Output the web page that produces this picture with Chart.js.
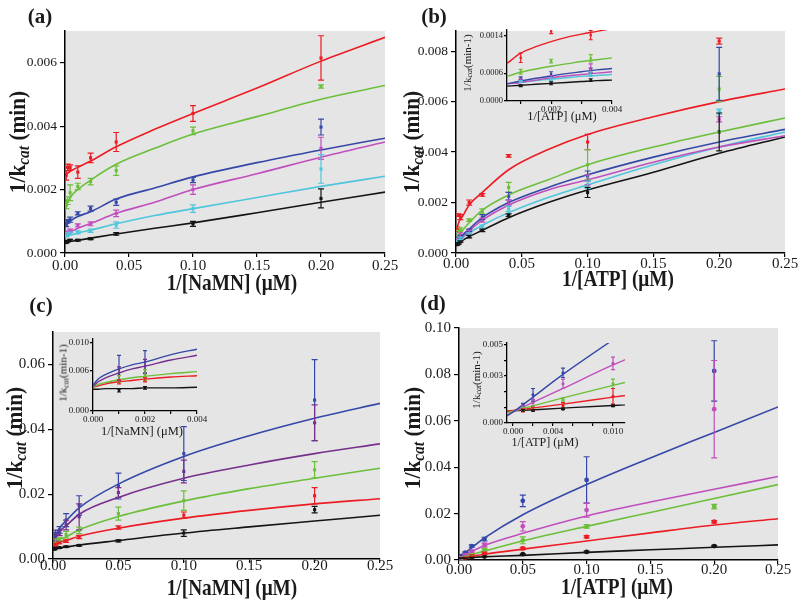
<!DOCTYPE html>
<html><head><meta charset="utf-8">
<script src="https://cdn.jsdelivr.net/npm/chart.js@4/dist/chart.umd.min.js"></script>
<style>
html,body{margin:0;padding:0;background:#fff;}
#wrap{position:relative;width:800px;height:606px;overflow:hidden;font-family:'Liberation Serif','Times New Roman',serif;color:#1a1a1a;}
canvas{position:absolute;}
.t{position:absolute;white-space:nowrap;transform:translate(-50%,-50%);line-height:1;}
.r{transform:translate(-50%,-50%) rotate(-90deg);}
.xs{transform:translate(-50%,-50%) scale(0.92,1.08);}
.ys{transform:translate(-50%,-50%) rotate(-90deg) scale(0.97,1.05);}
.b{font-weight:bold;}
sub{font-size:72%;vertical-align:-0.2em;line-height:0;}
</style></head><body><div id="wrap"></div>
<script>
// ---------- Panel (a): 1/kcat vs 1/[NaMN] ----------
const xA = [0.001, 0.002, 0.004, 0.01, 0.02, 0.04, 0.1, 0.2];
const aRed = [0.00245, 0.0027, 0.0027, 0.00255, 0.0030, 0.0035, 0.0044, 0.00615];
const aRedErr = [0.00015, 0.0001, 0.00008, 0.0002, 0.00015, 0.0003, 0.00025, 0.0007];
const aGreen = [0.0015, 0.00165, 0.0019, 0.0021, 0.00225, 0.0026, 0.00385, 0.00525];
const aGreenErr = [0.0001, 0.00012, 0.00025, 0.0001, 0.0001, 0.00015, 0.00012, 0.00005];
const aBlue = [0.00088, 0.001, 0.00105, 0.00125, 0.0014, 0.0016, 0.0023, 0.00397];
const aBlueErr = [0.00005, 0.00005, 0.00008, 0.00005, 0.00008, 0.0001, 0.00008, 0.00025];
const aMagenta = [0.00062, 0.00065, 0.0007, 0.00087, 0.00092, 0.00125, 0.002, 0.0033];
const aMagentaErr = [0.00004, 0.00004, 0.00005, 0.00005, 0.00006, 0.0001, 0.00015, 0.00035];
const aCyan = [0.00055, 0.0006, 0.00062, 0.00065, 0.0007, 0.00088, 0.0014, 0.00265];
const aCyanErr = [0.00004, 0.00004, 0.00004, 0.00005, 0.00005, 0.0001, 0.00012, 0.00045];
const aBlack = [0.00033, 0.00037, 0.0004, 0.0004, 0.00045, 0.0006, 0.00092, 0.00172];
const aBlackErr = [0.00002, 0.00002, 0.00003, 0.00003, 0.00003, 0.00004, 0.00008, 0.0003];
const fitXA = [0, 0.005, 0.01, 0.02, 0.04, 0.07, 0.1, 0.15, 0.2, 0.25];
const aRedFit = [0.00245, 0.0026, 0.0027, 0.0029, 0.00335, 0.0039, 0.0044, 0.0052, 0.00605, 0.0068];
const aGreenFit = [0.00145, 0.0018, 0.002, 0.0023, 0.0028, 0.0033, 0.00375, 0.0043, 0.00485, 0.00528];
const aBlueFit = [0.00085, 0.00103, 0.00115, 0.0013, 0.0017, 0.00205, 0.0024, 0.00285, 0.00325, 0.00362];
const aMagentaFit = [0.0006, 0.00068, 0.00078, 0.00093, 0.00125, 0.0016, 0.002, 0.0025, 0.00302, 0.0035];
const aCyanFit = [0.0005, 0.00058, 0.00063, 0.00072, 0.00092, 0.00118, 0.0014, 0.00175, 0.0021, 0.00242];
const aBlackFit = [0.00033, 0.00037, 0.0004, 0.00047, 0.0006, 0.00078, 0.00095, 0.00127, 0.0016, 0.00192];
const aYTicks = [0, 0.002, 0.004, 0.006];
const aYLabels = ['0.000', '0.002', '0.004', '0.006'];

// ---------- Panel (b): 1/kcat vs 1/[ATP] ----------
const xB = [0.001, 0.002, 0.0033, 0.01, 0.02, 0.04, 0.1, 0.2];
const bRed = [0.00093, 0.0015, 0.00142, 0.002, 0.0023, 0.00385, 0.0044, 0.0084];
const bRedErr = [0.0001, 0.00005, 0.0001, 0.0001, 0.00005, 0.00005, 0.0003, 0.00012];
const bGreen = [0.00063, 0.00086, 0.00092, 0.0013, 0.00165, 0.0026, 0.0035, 0.0065];
const bGreenErr = [0.00005, 0.00004, 0.00008, 0.00005, 0.0001, 0.0002, 0.0006, 0.0005];
const bBlue = [0.00049, 0.00058, 0.00066, 0.0009, 0.00142, 0.00225, 0.00305, 0.0071];
const bBlueErr = [0.00003, 0.00005, 0.00005, 0.00005, 0.0001, 0.00015, 0.0002, 0.00105];
const bMagenta = [0.00045, 0.00052, 0.0007, 0.00085, 0.0013, 0.002, 0.0029, 0.0053];
const bMagentaErr = [0.00003, 0.00003, 0.0001, 0.00005, 0.00008, 0.0001, 0.0002, 0.0001];
const bCyan = [0.00042, 0.00047, 0.00058, 0.00075, 0.00105, 0.00175, 0.0027, 0.0056];
const bCyanErr = [0.00002, 0.00003, 0.00005, 0.00005, 0.00006, 0.0001, 0.00015, 0.0001];
const bBlack = [0.00033, 0.00038, 0.00045, 0.00065, 0.0009, 0.0015, 0.0024, 0.0048];
const bBlackErr = [0.00002, 0.00003, 0.00003, 0.00005, 0.00005, 0.00005, 0.0002, 0.00075];
const fitXB = [0, 0.002, 0.005, 0.01, 0.02, 0.04, 0.07, 0.1, 0.15, 0.2, 0.25];
const bRedFit = [0.0008, 0.0012, 0.00145, 0.0019, 0.0024, 0.0033, 0.0041, 0.0047, 0.0054, 0.006, 0.0065];
const bGreenFit = [0.0005, 0.0007, 0.0009, 0.0012, 0.0017, 0.0023, 0.0029, 0.0035, 0.0042, 0.0048, 0.00535];
const bBlueFit = [0.00035, 0.0005, 0.0007, 0.00095, 0.0014, 0.002, 0.0026, 0.0031, 0.0038, 0.0044, 0.0049];
const bMagentaFit = [0.00035, 0.00048, 0.00065, 0.00088, 0.0013, 0.0019, 0.0025, 0.0029, 0.0036, 0.0042, 0.00465];
const bCyanFit = [0.00035, 0.00045, 0.0006, 0.0008, 0.0011, 0.0016, 0.0022, 0.0027, 0.0035, 0.0042, 0.0048];
const bBlackFit = [0.0003, 0.00038, 0.0005, 0.00065, 0.0009, 0.0014, 0.002, 0.0025, 0.0032, 0.00395, 0.0046];
const bYTicks = [0, 0.002, 0.004, 0.006, 0.008];
const bYLabels = ['0.000', '0.002', '0.004', '0.006', '0.008'];
// inset (b)
const fitXBi = [0.00055, 0.001, 0.0015, 0.002, 0.0025, 0.003, 0.0035, 0.004];
const biRedFit = [0.00081, 0.00103, 0.00117, 0.00128, 0.00137, 0.00144, 0.0015, 0.00156];
const biGreenFit = [0.00053, 0.00062, 0.00069, 0.00075, 0.0008, 0.00085, 0.00089, 0.00093];
const biBlueFit = [0.00037, 0.00043, 0.00049, 0.00054, 0.00059, 0.00063, 0.00067, 0.0007];
const biMagentaFit = [0.00037, 0.0004, 0.00045, 0.0005, 0.00054, 0.00057, 0.0006, 0.00063];
const biCyanFit = [0.00037, 0.0004, 0.00044, 0.00047, 0.0005, 0.00053, 0.00055, 0.00057];
const biBlackFit = [0.00032, 0.00034, 0.00036, 0.00038, 0.0004, 0.00042, 0.00044, 0.00045];
const biXTicks = [0.001, 0.002, 0.003, 0.004];
const biXLabels = ['', '0.002', '', '0.004'];
const biYTicks = [0, 0.0006, 0.0014];
const biYLabels = ['0.0000', '0.0006', '0.0014'];

// ---------- Panel (c): 1/kcat vs 1/[NaMN] ----------
const xC = [0.001, 0.002, 0.005, 0.01, 0.02, 0.05, 0.1, 0.2];
const cBlue = [0.0062, 0.0072, 0.009, 0.012, 0.0165, 0.0225, 0.0325, 0.049];
const cBlueErr = [0.002, 0.0017, 0.001, 0.002, 0.003, 0.004, 0.0083, 0.0125];
const cPurple = [0.0055, 0.0066, 0.008, 0.0105, 0.013, 0.0205, 0.027, 0.042];
const cPurpleErr = [0.001, 0.001, 0.0008, 0.0015, 0.004, 0.0015, 0.0035, 0.0055];
const cGreen = [0.0047, 0.0053, 0.006, 0.0075, 0.0088, 0.014, 0.018, 0.0275];
const cGreenErr = [0.0005, 0.0008, 0.0005, 0.001, 0.001, 0.002, 0.003, 0.0025];
const cRed = [0.0043, 0.0046, 0.005, 0.0055, 0.0068, 0.0097, 0.0135, 0.0195];
const cRedErr = [0.0003, 0.0003, 0.0003, 0.0004, 0.0005, 0.0005, 0.001, 0.0025];
const cBlack = [0.003, 0.0034, 0.0035, 0.0038, 0.0042, 0.0056, 0.008, 0.0152];
const cBlackErr = [0.0002, 0.0002, 0.0002, 0.0002, 0.0002, 0.0003, 0.001, 0.001];
const fitXC = [0, 0.001, 0.002, 0.005, 0.01, 0.02, 0.05, 0.1, 0.15, 0.2, 0.25];
const cBlueFit = [0.004, 0.006, 0.0068, 0.0095, 0.0118, 0.0158, 0.0231, 0.0316, 0.038, 0.0434, 0.048];
const cPurpleFit = [0.0037, 0.0055, 0.0063, 0.0085, 0.0102, 0.0138, 0.019, 0.0249, 0.029, 0.0325, 0.0355];
const cGreenFit = [0.0035, 0.0045, 0.005, 0.006, 0.0068, 0.009, 0.0131, 0.0179, 0.0217, 0.0249, 0.028];
const cRedFit = [0.0035, 0.004, 0.0045, 0.0052, 0.0057, 0.007, 0.0095, 0.0126, 0.015, 0.017, 0.0186];
const cBlackFit = [0.0031, 0.0032, 0.0032, 0.0034, 0.0037, 0.0043, 0.0057, 0.008, 0.0099, 0.0117, 0.0135];
const cYTicks = [0, 0.02, 0.04, 0.06];
const cYLabels = ['0.00', '0.02', '0.04', '0.06'];
// inset (c)
const fitXCi = [0, 0.0002, 0.0005, 0.001, 0.0015, 0.002, 0.003, 0.004];
const ciBlueFit = [0.0038, 0.0047, 0.0054, 0.0062, 0.0068, 0.0072, 0.0083, 0.0091];
const ciPurpleFit = [0.0036, 0.0043, 0.0049, 0.0056, 0.0062, 0.0066, 0.0075, 0.0082];
const ciGreenFit = [0.0035, 0.0039, 0.0042, 0.0046, 0.0049, 0.0051, 0.0055, 0.0058];
const ciRedFit = [0.0035, 0.0037, 0.004, 0.0043, 0.0045, 0.0047, 0.005, 0.0052];
const ciBlackFit = [0.0032, 0.0032, 0.0033, 0.0033, 0.0033, 0.0034, 0.0034, 0.0035];
const ciXTicks = [0, 0.001, 0.002, 0.003, 0.004];
const ciXLabels = ['0.000', '', '0.002', '', '0.004'];
const ciYTicks = [0, 0.006, 0.010];
const ciYLabels = ['0.000', '0.006', '0.010'];

// ---------- Panel (d): 1/kcat vs 1/[ATP] ----------
const xD = [0.001, 0.002, 0.005, 0.01, 0.02, 0.05, 0.1, 0.2];
const dBlue = [0.00115, 0.0018, 0.0032, 0.006, 0.009, 0.0255, 0.0345, 0.0815];
const dBlueErr = [0.0001, 0.0004, 0.0003, 0.0005, 0.0008, 0.0025, 0.01, 0.013];
const dMagenta = [0.001, 0.0013, 0.0025, 0.0038, 0.0065, 0.0145, 0.0215, 0.065];
const dMagentaErr = [0.0001, 0.0002, 0.0003, 0.0004, 0.0008, 0.002, 0.003, 0.021];
const dGreen = [0.0009, 0.001, 0.0015, 0.0025, 0.0045, 0.0085, 0.0145, 0.023];
const dGreenErr = [0.0001, 0.0001, 0.0001, 0.0003, 0.0004, 0.0015, 0.0008, 0.001];
const dRed = [0.0008, 0.0009, 0.0011, 0.0017, 0.003, 0.005, 0.01, 0.0165];
const dRedErr = [0.0001, 0.0001, 0.0002, 0.0005, 0.0004, 0.0005, 0.0005, 0.0005];
const dBlack = [0.0008, 0.0008, 0.0009, 0.0011, 0.0015, 0.0025, 0.0035, 0.006];
const dBlackErr = [0.00005, 0.00005, 0.00005, 0.00005, 0.0001, 0.0002, 0.0003, 0.0003];
const fitXD = [-0.0006, 0, 0.005, 0.01, 0.02, 0.05, 0.1, 0.15, 0.2, 0.25];
const dBlueFit = [0.00045, 0.0007, 0.0031, 0.0053, 0.0095, 0.0195, 0.0325, 0.044, 0.055, 0.066];
const dMagentaFit = [0.0005, 0.0007, 0.0022, 0.0037, 0.0063, 0.0115, 0.019, 0.025, 0.0305, 0.036];
const dGreenFit = [0.00065, 0.00075, 0.0016, 0.0024, 0.0039, 0.0082, 0.0145, 0.0205, 0.0265, 0.0325];
const dRedFit = [0.00075, 0.0008, 0.0012, 0.00165, 0.0025, 0.0047, 0.0082, 0.0117, 0.0151, 0.0178];
const dBlackFit = [0.00075, 0.00077, 0.00095, 0.00112, 0.0014, 0.002, 0.0033, 0.0044, 0.0055, 0.0065];
const dYTicks = [0, 0.02, 0.04, 0.06, 0.08, 0.10];
const dYLabels = ['0.00', '0.02', '0.04', '0.06', '0.08', '0.10'];
// inset (d)
const diXTicks = [0, 0.002, 0.004, 0.006, 0.008, 0.010];
const diXLabels = ['0.000', '', '0.004', '', '', '0.010'];
const diYTicks = [0, 0.001, 0.002, 0.003, 0.004, 0.005];
const diYLabels = ['0.000', '', '', '0.003', '', '0.005'];

// shared main x ticks
const mainXTicks = [0, 0.05, 0.1, 0.15, 0.2, 0.25];
const mainXLabels = ['0.00', '0.05', '0.10', '0.15', '0.20', '0.25'];

// ---------- drawing ----------
const COL = {red:'#ec1c24', green:'#6cbf3a', blue:'#3548a8', magenta:'#c04fbd', cyan:'#4fc6dc', black:'#141414', purple:'#76308c'};
const FAM = "'Liberation Serif','Times New Roman',serif";
Chart.defaults.font.family = FAM;
const wrap = document.getElementById('wrap');

const bgPlugin = {id:'bgfill', beforeDraw(chart, args, o){ if(!o.color) return; const a = chart.chartArea, c = chart.ctx; c.save(); c.fillStyle = o.color; c.fillRect(a.left, a.top, a.right-a.left, a.bottom-a.top); c.restore(); }};
const errPlugin = {id:'errbars', afterDatasetsDraw(chart, args, o){
  const c = chart.ctx, a = chart.chartArea, xs = chart.scales.x, ys = chart.scales.y, cap = o.cap || 3;
  c.save(); c.beginPath(); c.rect(a.left, a.top, a.right-a.left, a.bottom-a.top); c.clip();
  chart.data.datasets.forEach(ds => {
    if (!ds.errs) return;
    c.strokeStyle = ds.borderColor; c.lineWidth = o.width || 1.2;
    ds.data.forEach((p, i) => {
      const e = ds.errs[i]; if (!e) return;
      const px = xs.getPixelForValue(p.x), y1 = ys.getPixelForValue(p.y + e), y2 = ys.getPixelForValue(p.y - e);
      c.beginPath();
      c.moveTo(px, y1); c.lineTo(px, y2);
      c.moveTo(px-cap, y1); c.lineTo(px+cap, y1);
      c.moveTo(px-cap, y2); c.lineTo(px+cap, y2);
      c.stroke();
    });
  });
  c.restore();
}};

function pts(xs, ys){ return xs.map((x, i) => ({x, y: ys[i]})); }
function fitDs(xs, ys, color, w){ return {data: pts(xs, ys), showLine:true, borderColor:color, borderWidth:w||1.6, pointRadius:0, cubicInterpolationMode:'monotone', fill:false, order:1}; }
function ptDs(xs, ys, errs, color, style, r){ return {data: pts(xs, ys), showLine:false, pointStyle:style||'rect', pointRadius:r||2.2, backgroundColor:color, borderColor:color, borderWidth:0, errs, order:2}; }

function axis(min, max, ticks, labels, size, fit, bw, tl, pad){
  return {
    type:'linear', min, max,
    afterBuildTicks: s => { s.ticks = ticks.map(v => ({value:v})); },
    afterFit: s => { if (s.isHorizontal()) s.height = fit; else s.width = fit; },
    ticks: {autoSkip:false, maxRotation:0, minRotation:0, padding:pad, color:'#1a1a1a', font:{size, family:FAM}, callback:(v, i) => labels[i]},
    grid: {display:true, drawOnChartArea:false, drawTicks:true, tickLength:tl, color:'#000', lineWidth:1.2},
    border: {display:true, color:'#000', width:bw}
  };
}

function make(box, m, xa, ya, datasets, bg, cap){
  const c = document.createElement('canvas');
  const W = box.r - box.l + m.L + m.R, H = box.b - box.t + m.T + m.B;
  c.width = W; c.height = H;
  c.style.left = (box.l - m.L) + 'px'; c.style.top = (box.t - m.T) + 'px';
  c.style.width = W + 'px'; c.style.height = H + 'px';
  wrap.appendChild(c);
  return new Chart(c, {
    type:'scatter',
    data:{datasets},
    options:{
      responsive:false, animation:false, events:[],
      layout:{padding:{top:m.T, right:m.R, left:0, bottom:0}},
      scales:{x:xa, y:ya},
      plugins:{legend:{display:false}, tooltip:{enabled:false}, bgfill:{color:bg}, errbars:{cap, width:1.2}}
    },
    plugins:[bgPlugin, errPlugin]
  });
}

const GRAY = '#e5e5e5';
const sl = (arr, n) => arr.slice(0, n);

// (a)
make({l:65, t:31, r:385, b:253}, {L:65, R:15, T:31, B:47},
  axis(0, 0.25, mainXTicks, mainXLabels, 15, 47, 1.5, 4, 0),
  axis(0, 0.007, aYTicks, aYLabels, 13.5, 65, 1.5, 5, 3),
  [fitDs(fitXA, aRedFit, COL.red), fitDs(fitXA, aGreenFit, COL.green), fitDs(fitXA, aBlueFit, COL.blue),
   fitDs(fitXA, aMagentaFit, COL.magenta), fitDs(fitXA, aCyanFit, COL.cyan), fitDs(fitXA, aBlackFit, COL.black),
   ptDs(xA, aRed, aRedErr, COL.red), ptDs(xA, aGreen, aGreenErr, COL.green), ptDs(xA, aBlue, aBlueErr, COL.blue),
   ptDs(xA, aMagenta, aMagentaErr, COL.magenta), ptDs(xA, aCyan, aCyanErr, COL.cyan), ptDs(xA, aBlack, aBlackErr, COL.black)],
  GRAY, 3);

// (b)
make({l:456, t:31, r:785, b:253}, {L:56, R:15, T:31, B:47},
  axis(0, 0.25, mainXTicks, mainXLabels, 15, 47, 1.5, 4, -2),
  axis(0, 0.0088, bYTicks, bYLabels, 13.5, 56, 1.5, 5, 3),
  [fitDs(fitXB, bRedFit, COL.red), fitDs(fitXB, bGreenFit, COL.green), fitDs(fitXB, bBlueFit, COL.blue),
   fitDs(fitXB, bMagentaFit, COL.magenta), fitDs(fitXB, bCyanFit, COL.cyan), fitDs(fitXB, bBlackFit, COL.black),
   ptDs(xB, bRed, bRedErr, COL.red), ptDs(xB, bGreen, bGreenErr, COL.green), ptDs(xB, bBlue, bBlueErr, COL.blue),
   ptDs(xB, bMagenta, bMagentaErr, COL.magenta), ptDs(xB, bCyan, bCyanErr, COL.cyan), ptDs(xB, bBlack, bBlackErr, COL.black)],
  GRAY, 3);
make({l:507, t:30, r:612, b:101}, {L:34, R:16, T:8, B:16},
  axis(0.00055, 0.004, biXTicks, biXLabels, 9, 16, 1.3, 3, 0),
  axis(0, 0.00153, biYTicks, biYLabels, 8.5, 34, 1.3, 3, 1),
  [fitDs(fitXBi, biRedFit, COL.red, 1.4), fitDs(fitXBi, biGreenFit, COL.green, 1.4), fitDs(fitXBi, biBlueFit, COL.blue, 1.4),
   fitDs(fitXBi, biMagentaFit, COL.magenta, 1.4), fitDs(fitXBi, biCyanFit, COL.cyan, 1.4), fitDs(fitXBi, biBlackFit, COL.black, 1.4),
   ptDs(sl(xB,3), sl(bRed,3), sl(bRedErr,3), COL.red, 'rect', 1.6), ptDs(sl(xB,3), sl(bGreen,3), sl(bGreenErr,3), COL.green, 'rect', 1.6),
   ptDs(sl(xB,3), sl(bBlue,3), sl(bBlueErr,3), COL.blue, 'rect', 1.6), ptDs(sl(xB,3), sl(bMagenta,3), sl(bMagentaErr,3), COL.magenta, 'rect', 1.6),
   ptDs(sl(xB,3), sl(bCyan,3), sl(bCyanErr,3), COL.cyan, 'rect', 1.6), ptDs(sl(xB,3), sl(bBlack,3), sl(bBlackErr,3), COL.black, 'rect', 1.6)],
  null, 2);

// (c)
make({l:53, t:332, r:380, b:559}, {L:53, R:20, T:32, B:47},
  axis(0, 0.25, mainXTicks, mainXLabels, 15, 47, 1.5, 4, -6),
  axis(0, 0.07, cYTicks, cYLabels, 15, 53, 1.5, 5, 3),
  [fitDs(fitXC, cBlueFit, COL.blue), fitDs(fitXC, cPurpleFit, COL.purple), fitDs(fitXC, cGreenFit, COL.green),
   fitDs(fitXC, cRedFit, COL.red), fitDs(fitXC, cBlackFit, COL.black),
   ptDs(xC, cBlue, cBlueErr, COL.blue), ptDs(xC, cPurple, cPurpleErr, COL.purple), ptDs(xC, cGreen, cGreenErr, COL.green),
   ptDs(xC, cRed, cRedErr, COL.red), ptDs(xC, cBlack, cBlackErr, COL.black)],
  GRAY, 3);
make({l:93, t:339, r:197, b:411}, {L:34, R:16, T:8, B:16},
  axis(0, 0.004, ciXTicks, ciXLabels, 9, 16, 1.3, 3, 0),
  axis(0, 0.0106, ciYTicks, ciYLabels, 9, 34, 1.3, 3, 1),
  [fitDs(fitXCi, ciBlueFit, COL.blue, 1.4), fitDs(fitXCi, ciPurpleFit, COL.purple, 1.4), fitDs(fitXCi, ciGreenFit, COL.green, 1.4),
   fitDs(fitXCi, ciRedFit, COL.red, 1.4), fitDs(fitXCi, ciBlackFit, COL.black, 1.4),
   ptDs(sl(xC,2), sl(cBlue,2), sl(cBlueErr,2), COL.blue, 'rect', 1.6), ptDs(sl(xC,2), sl(cPurple,2), sl(cPurpleErr,2), COL.purple, 'rect', 1.6),
   ptDs(sl(xC,2), sl(cGreen,2), sl(cGreenErr,2), COL.green, 'rect', 1.6), ptDs(sl(xC,2), sl(cRed,2), sl(cRedErr,2), COL.red, 'rect', 1.6),
   ptDs(sl(xC,2), sl(cBlack,2), sl(cBlackErr,2), COL.black, 'rect', 1.6)],
  null, 2);

// (d)
make({l:459, t:328, r:778, b:560}, {L:59, R:22, T:28, B:46},
  axis(0, 0.25, mainXTicks, mainXLabels, 15, 46, 1.5, 4, -3),
  axis(0, 0.10, dYTicks, dYLabels, 15, 59, 1.5, 5, 3),
  [fitDs(fitXD, dBlueFit, COL.blue), fitDs(fitXD, dMagentaFit, COL.magenta), fitDs(fitXD, dGreenFit, COL.green),
   fitDs(fitXD, dRedFit, COL.red), fitDs(fitXD, dBlackFit, COL.black),
   ptDs(xD, dBlue, dBlueErr, COL.blue, 'circle', 2.4), ptDs(xD, dMagenta, dMagentaErr, COL.magenta, 'circle', 2.4), ptDs(xD, dGreen, dGreenErr, COL.green, 'circle', 2.4),
   ptDs(xD, dRed, dRedErr, COL.red, 'circle', 2.4), ptDs(xD, dBlack, dBlackErr, COL.black, 'circle', 2.4)],
  GRAY, 3);
make({l:507, t:343, r:625, b:423}, {L:34, R:16, T:8, B:16},
  axis(-0.0006, 0.0112, diXTicks, diXLabels, 9, 16, 1.3, 3, 0),
  axis(0, 0.0051, diYTicks, diYLabels, 9, 34, 1.3, 3, 1),
  [fitDs(fitXD, dBlueFit, COL.blue, 1.4), fitDs(fitXD, dMagentaFit, COL.magenta, 1.4), fitDs(fitXD, dGreenFit, COL.green, 1.4),
   fitDs(fitXD, dRedFit, COL.red, 1.4), fitDs(fitXD, dBlackFit, COL.black, 1.4),
   ptDs(sl(xD,4), sl(dBlue,4), sl(dBlueErr,4), COL.blue, 'circle', 1.6), ptDs(sl(xD,4), sl(dMagenta,4), sl(dMagentaErr,4), COL.magenta, 'circle', 1.6),
   ptDs(sl(xD,4), sl(dGreen,4), sl(dGreenErr,4), COL.green, 'circle', 1.6), ptDs(sl(xD,4), sl(dRed,4), sl(dRedErr,4), COL.red, 'circle', 1.6),
   ptDs(sl(xD,4), sl(dBlack,4), sl(dBlackErr,4), COL.black, 'circle', 1.6)],
  null, 2);

// ---------- text labels ----------
const KCAT = '1/k<sub><i>cat</i></sub> (min)';
const KCATI = '1/k<sub><i>cat</i></sub>(min-1)';
const texts = [
  {x:40, y:16, h:'(a)', s:21, b:1}, {x:434, y:16, h:'(b)', s:21, b:1},
  {x:41, y:305, h:'(c)', s:21, b:1}, {x:433, y:303, h:'(d)', s:21, b:1},
  {x:18, y:142, h:KCAT, s:22, b:1, c:'ys'}, {x:412, y:142, h:KCAT, s:22, b:1, c:'ys'},
  {x:15, y:438, h:KCAT, s:22, b:1, c:'ys'}, {x:413, y:438, h:KCAT, s:22, b:1, c:'ys'},
  {x:232, y:283, h:'1/[NaMN] (μM)', s:21, b:1, c:'xs'}, {x:618, y:279, h:'1/[ATP] (μM)', s:21, b:1, c:'xs'},
  {x:232, y:588, h:'1/[NaMN] (μM)', s:21, b:1, c:'xs'}, {x:617, y:587, h:'1/[ATP] (μM)', s:21, b:1, c:'xs'},
  {x:467, y:63, h:KCATI, s:11, c:'r'}, {x:562, y:116, h:'1/[ATP] (μM)', s:12.5},
  {x:63, y:373, h:KCATI, s:11, c:'r'}, {x:142, y:431, h:'1/[NaMN] (μM)', s:12.5},
  {x:476, y:380, h:KCATI, s:11, c:'r'}, {x:545, y:442, h:'1/[ATP] (μM)', s:12}
];
texts.forEach(t => {
  const d = document.createElement('div');
  d.className = 't' + (t.b ? ' b' : '') + (t.c ? ' ' + t.c : '');
  d.style.left = t.x + 'px'; d.style.top = t.y + 'px'; d.style.fontSize = t.s + 'px';
  d.innerHTML = t.h;
  wrap.appendChild(d);
});
</script></body></html>
